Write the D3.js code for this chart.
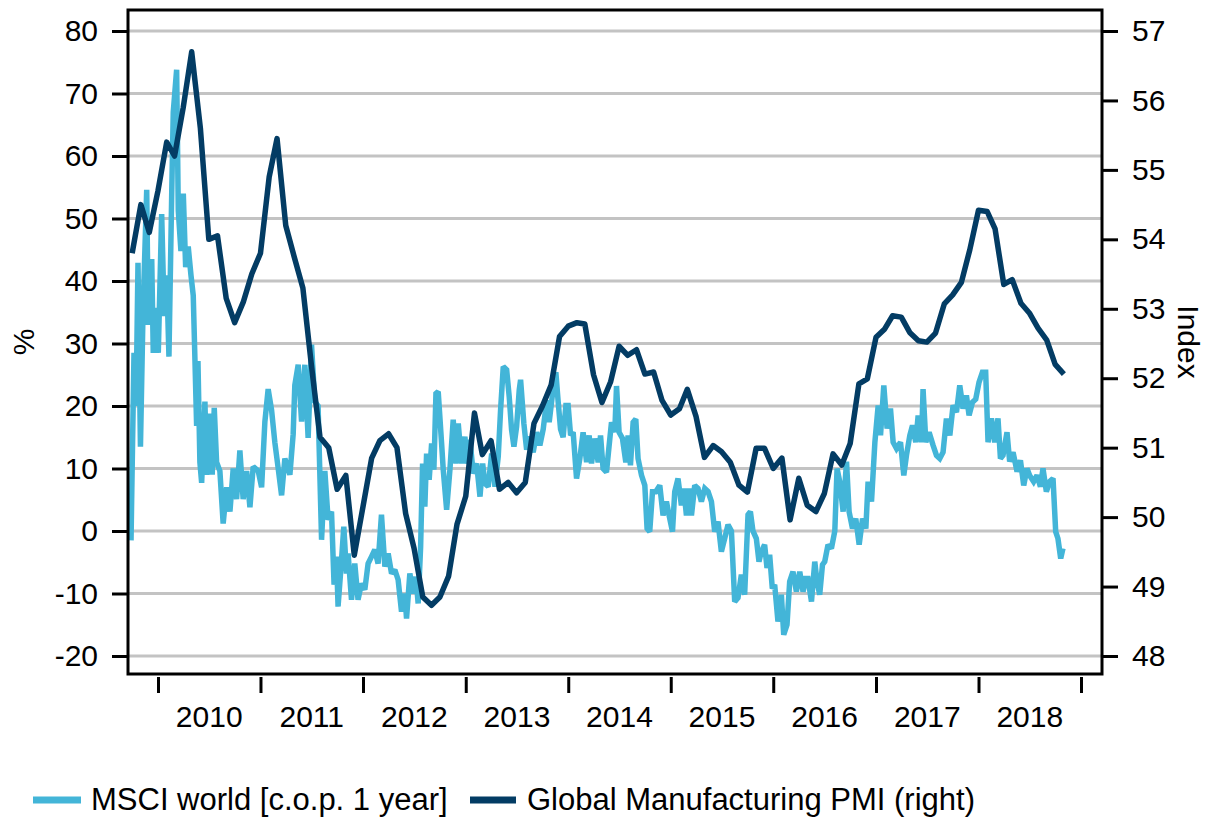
<!DOCTYPE html>
<html><head><meta charset="utf-8">
<script src="https://cdn.jsdelivr.net/npm/d3@7"></script>
<style>
body{margin:0;background:#fff}
text{font-family:"Liberation Sans", Arial, Helvetica, sans-serif; fill:#000}
</style>
</head><body>
<svg id="chart" width="1209" height="819"></svg>
<script>
// ---------------- DATA ----------------
const leftTicks = [-20, -10, 0, 10, 20, 30, 40, 50, 60, 70, 80];
const rightTicks = [48, 49, 50, 51, 52, 53, 54, 55, 56, 57];
const yearLabels = [2010, 2011, 2012, 2013, 2014, 2015, 2016, 2017, 2018];
const yearTicks = [2010, 2011, 2012, 2013, 2014, 2015, 2016, 2017, 2018, 2019];
const leftTitle = "%";
const rightTitle = "Index";
const seriesNames = ["MSCI world [c.o.p. 1 year]", "Global Manufacturing PMI (right)"];

// Global Manufacturing PMI, monthly from Oct 2009
const pmiStart = [2009, 9];
const pmiValues = [
  53.8, 54.5, 54.1,
  54.7, 55.4, 55.2, 55.9, 56.7, 55.6, 54.0, 54.05, 53.15, 52.8, 53.1, 53.5,
  53.8, 54.9, 55.45, 54.2, 53.75, 53.3, 52.2, 51.15, 51.0, 50.4, 50.6, 49.45,
  50.15, 50.85, 51.1, 51.2, 51.0, 50.05, 49.55, 48.85, 48.73, 48.85, 49.15, 49.9,
  50.3, 51.5, 50.9, 51.1, 50.4, 50.5, 50.35, 50.5, 51.35, 51.6, 51.9, 52.6,
  52.75, 52.8, 52.78, 52.05, 51.65, 51.95, 52.46, 52.33, 52.41, 52.06, 52.09, 51.68,
  51.47, 51.56, 51.84, 51.45, 50.86, 51.03, 50.94, 50.79, 50.46, 50.36, 50.99, 50.99,
  50.7, 50.85, 49.96, 50.56, 50.17, 50.08, 50.34, 50.91, 50.75, 51.06, 51.92, 51.99,
  52.59, 52.71, 52.9, 52.88, 52.66, 52.54, 52.52, 52.65, 53.07, 53.2, 53.38, 53.85,
  54.42, 54.4, 54.15, 53.35, 53.42, 53.08, 52.94, 52.72, 52.55, 52.2, 52.06
];

// MSCI world, change over previous year in %, [decimal year, value]
const msciSeries = [
  [2009.737,-1.5],[2009.766,28.5],[2009.786,20],[2009.805,42.9],[2009.829,13.5],[2009.854,35],
  [2009.890,54.6],[2009.905,33],[2009.939,43.5],[2009.954,28.5],[2009.987,35.7],[2010.003,28.5],
  [2010.036,50.7],[2010.061,34.4],[2010.085,40.9],[2010.107,27.9],[2010.134,54],[2010.149,67],
  [2010.182,73.8],[2010.198,51.3],[2010.224,44.8],[2010.247,54],[2010.270,42.2],[2010.295,45.5],
  [2010.322,40.9],[2010.344,37.7],[2010.361,27.2],[2010.377,16.8],[2010.390,27.2],[2010.409,11],
  [2010.426,7.7],[2010.458,20.7],[2010.475,9],[2010.507,18.8],[2010.529,9],[2010.549,19.7],
  [2010.572,11],[2010.604,9.6],[2010.636,1.2],[2010.670,7],[2010.702,3.1],[2010.734,10],
  [2010.767,5.1],[2010.799,12.9],[2010.831,5.1],[2010.865,9.6],[2010.897,3.8],[2010.929,10.3],
  [2010.978,9.6],[2011.011,7],[2011.043,17.5],[2011.075,22.7],[2011.108,19.4],[2011.140,14.2],
  [2011.173,10],[2011.206,5.7],[2011.238,11.6],[2011.287,9],[2011.319,15.5],[2011.335,23.3],
  [2011.368,26.6],[2011.401,17.5],[2011.433,26.6],[2011.465,14.9],[2011.498,29.8],[2011.530,20.7],
  [2011.562,20],[2011.596,-1.4],[2011.628,9.6],[2011.660,1.8],[2011.693,3.1],[2011.718,-8.6],
  [2011.742,-4.1],[2011.757,-12.1],[2011.791,-4.6],[2011.813,0.7],[2011.839,-6.8],[2011.855,-3.6],
  [2011.888,-11],[2011.920,-5.2],[2011.952,-11],[2011.985,-8.4],[2012.018,-9.4],[2012.050,-5.2],
  [2012.083,-4.1],[2012.115,-3.0],[2012.147,-5.2],[2012.180,2.6],[2012.213,-5.7],[2012.245,-3.6],
  [2012.278,-6.8],[2012.310,-6.2],[2012.342,-7.8],[2012.375,-12.9],[2012.407,-10],[2012.424,-14],
  [2012.456,-6.8],[2012.488,-10],[2012.515,-7.3],[2012.537,-11.6],[2012.561,-2.5],[2012.580,10.8],
  [2012.602,3.9],[2012.619,12.4],[2012.644,8.2],[2012.668,14.0],[2012.690,9.8],[2012.710,22],
  [2012.732,22.3],[2012.765,14],[2012.781,9.8],[2012.814,3.4],[2012.846,9.8],[2012.878,17.8],
  [2012.905,10.8],[2012.927,17.2],[2012.960,10.8],[2012.992,15.1],[2013.009,10.8],[2013.041,14.6],
  [2013.073,9.2],[2013.106,10.8],[2013.139,5.5],[2013.165,10.8],[2013.187,7.6],[2013.219,7.1],
  [2013.253,12.4],[2013.285,7.1],[2013.317,11.9],[2013.340,19.4],[2013.366,26.3],[2013.399,25.8],
  [2013.424,21.5],[2013.447,16.2],[2013.470,13.5],[2013.496,16.7],[2013.522,22.6],[2013.535,24.2],
  [2013.567,17.2],[2013.594,13],[2013.619,15.1],[2013.658,12.6],[2013.691,15.8],[2013.723,13.7],
  [2013.756,16.3],[2013.789,20.9],[2013.814,17.4],[2013.837,20.6],[2013.860,23.8],[2013.879,25.4],
  [2013.902,20.6],[2013.925,16.3],[2013.950,15.0],[2013.977,20.1],[2013.999,20.1],[2014.023,15.3],
  [2014.048,15.8],[2014.081,8.4],[2014.113,11.6],[2014.145,15.8],[2014.179,11.0],[2014.204,15.3],
  [2014.227,10.8],[2014.259,14.8],[2014.292,11.0],[2014.315,15.3],[2014.340,10],[2014.373,9.4],
  [2014.399,13.7],[2014.422,17.4],[2014.454,15.8],[2014.471,23.2],[2014.496,15.8],[2014.529,14.8],
  [2014.562,11.0],[2014.584,15.3],[2014.607,10.5],[2014.633,17.4],[2014.659,17.9],[2014.681,11.6],
  [2014.715,8.9],[2014.747,7.3],[2014.769,0.4],[2014.795,-0.1],[2014.822,6.3],[2014.854,6.3],
  [2014.893,7.3],[2014.925,2.5],[2014.958,4.7],[2014.984,2.5],[2015.017,-0.1],[2015.039,6.3],
  [2015.071,8.4],[2015.104,4.1],[2015.127,6.8],[2015.153,2.5],[2015.179,6.8],[2015.202,2.5],
  [2015.234,7.3],[2015.266,6.8],[2015.299,4.7],[2015.332,6.8],[2015.364,6.3],[2015.397,4.7],
  [2015.429,-0.1],[2015.461,1.5],[2015.494,-3.3],[2015.526,-1.2],[2015.559,1.0],[2015.592,0],
  [2015.624,-11.3],[2015.656,-10.7],[2015.689,-7.0],[2015.721,-10.2],[2015.754,2.6],[2015.777,3.1],
  [2015.802,0],[2015.835,-1.2],[2015.861,-4.9],[2015.884,-3.3],[2015.916,-2.2],[2015.939,-5.9],
  [2015.965,-3.8],[2015.991,-9.2],[2016.014,-8.6],[2016.046,-14.5],[2016.079,-10.2],[2016.102,-16.6],
  [2016.134,-15],[2016.160,-8.1],[2016.192,-6.5],[2016.225,-9.7],[2016.258,-6.5],[2016.290,-9.7],
  [2016.316,-7.6],[2016.338,-7.6],[2016.372,-11.3],[2016.404,-4.9],[2016.426,-8.1],[2016.452,-10.2],
  [2016.479,-5.4],[2016.501,-4.9],[2016.533,-2.2],[2016.566,-2.8],[2016.599,0],[2016.621,10],
  [2016.647,7.9],[2016.680,3.1],[2016.713,11.1],[2016.738,3.1],[2016.771,0.4],[2016.803,2.0],
  [2016.836,-2.2],[2016.869,2.0],[2016.901,0.4],[2016.923,7.9],[2016.956,4.7],[2016.989,14.2],
  [2017.021,20.1],[2017.044,15.3],[2017.076,23.3],[2017.108,16.4],[2017.141,19.6],[2017.167,14.2],
  [2017.200,13.2],[2017.239,14.2],[2017.271,8.9],[2017.297,12.1],[2017.330,15.3],[2017.356,16.9],
  [2017.388,14.2],[2017.411,18.5],[2017.444,14.2],[2017.459,22.7],[2017.486,14.2],[2017.518,15.8],
  [2017.557,13.7],[2017.590,12.1],[2017.622,11.6],[2017.654,12.6],[2017.687,18.0],[2017.720,15.3],
  [2017.752,20.1],[2017.785,19.0],[2017.817,23.3],[2017.849,19.6],[2017.882,21.7],[2017.908,18.5],
  [2017.941,20.6],[2017.973,21.1],[2018.005,23.8],[2018.038,25.4],[2018.070,25.4],[2018.093,14.2],
  [2018.126,18.0],[2018.158,14.2],[2018.190,18.0],[2018.214,11.6],[2018.239,12.1],[2018.278,15.8],
  [2018.304,11.1],[2018.337,12.6],[2018.376,9.5],[2018.409,11.3],[2018.441,7.3],[2018.473,10],
  [2018.499,8.9],[2018.538,7.9],[2018.571,8.9],[2018.604,7.1],[2018.629,10],[2018.662,6.3],
  [2018.694,7.9],[2018.727,8.4],[2018.753,-0.1],[2018.775,-1.2],[2018.802,-4.4],[2018.824,-2.8]
];
const xDomainYears = [2009.7075, 2019.2048];

// ---------------- LAYOUT ----------------
const W = 1209, H = 819;
const plot = {left: 128, right: 1102, top: 10, bottom: 674};
const colors = {msci: "#43b5d8", pmi: "#033c64", grid: "#c3c3c3"};

function decYear(t) {
  const y = Math.floor(t);
  const s = Date.UTC(y, 0, 1), e = Date.UTC(y + 1, 0, 1);
  return new Date(s + (t - y) * (e - s));
}

const svg = d3.select("#chart");
const x = d3.scaleUtc().domain(xDomainYears.map(decYear)).range([plot.left, plot.right]);
const yL = d3.scaleLinear().domain([-20, 80]).range([656, 31]);
const yR = d3.scaleLinear().domain([48, 57]).range([656, 31]);

// gridlines
svg.append("g").selectAll("line").data(leftTicks).join("line")
  .attr("x1", plot.left).attr("x2", plot.right)
  .attr("y1", d => yL(d)).attr("y2", d => yL(d))
  .attr("stroke", colors.grid).attr("stroke-width", 3);

// series
const pmiData = pmiValues.map((v, i) => ({date: new Date(Date.UTC(pmiStart[0], pmiStart[1] + i, 1)), v}));
const msciData = msciSeries.map(([t, v]) => ({date: decYear(t), v}));

svg.append("path").datum(msciData)
  .attr("fill", "none").attr("stroke", colors.msci).attr("stroke-width", 5.5)
  .attr("stroke-linejoin", "miter").attr("stroke-miterlimit", 2)
  .attr("d", d3.line().x(d => x(d.date)).y(d => yL(d.v)));

svg.append("path").datum(pmiData)
  .attr("fill", "none").attr("stroke", colors.pmi).attr("stroke-width", 5.5)
  .attr("stroke-linejoin", "round")
  .attr("d", d3.line().x(d => x(d.date)).y(d => yR(d.v)));

// frame
svg.append("rect").attr("x", plot.left).attr("y", plot.top)
  .attr("width", plot.right - plot.left).attr("height", plot.bottom - plot.top)
  .attr("fill", "none").attr("stroke", "#000").attr("stroke-width", 3);

// axes
const fs = "30px";
const plain = d => String(d);
const gL = svg.append("g").attr("transform", `translate(${plot.left},0)`)
  .call(d3.axisLeft(yL).tickValues(leftTicks).tickSize(16).tickPadding(14).tickFormat(plain));
const gR = svg.append("g").attr("transform", `translate(${plot.right},0)`)
  .call(d3.axisRight(yR).tickValues(rightTicks).tickSize(16).tickPadding(14).tickFormat(plain));
const gB = svg.append("g").attr("transform", `translate(0,${plot.bottom + 3})`)
  .call(d3.axisBottom(x).tickValues(yearTicks.map(y => decYear(y))).tickSize(16).tickFormat(""));
[gL, gR, gB].forEach(g => {
  g.select(".domain").remove();
  g.selectAll(".tick line").attr("stroke", "#000").attr("stroke-width", 3);
  g.selectAll(".tick text").attr("font-size", fs).attr("font-family", "Liberation Sans, Arial, sans-serif").attr("fill", "#000");
});

svg.append("g").selectAll("text").data(yearLabels).join("text")
  .attr("x", d => x(decYear(d + 0.5))).attr("y", 727)
  .attr("text-anchor", "middle").attr("font-size", fs).text(d => d);

// axis titles
svg.append("text").attr("transform", `translate(34,${(plot.top + plot.bottom) / 2}) rotate(-90)`)
  .attr("text-anchor", "middle").attr("font-size", fs).text(leftTitle);
svg.append("text").attr("transform", `translate(1178,${(plot.top + plot.bottom) / 2}) rotate(90)`)
  .attr("text-anchor", "middle").attr("font-size", fs).text(rightTitle);

// legend
const legend = [
  {name: seriesNames[0], color: colors.msci, x1: 33, x2: 81, tx: 91},
  {name: seriesNames[1], color: colors.pmi, x1: 470, x2: 516, tx: 527}
];
const lg = svg.append("g");
legend.forEach(l => {
  lg.append("line").attr("x1", l.x1).attr("x2", l.x2).attr("y1", 800).attr("y2", 800)
    .attr("stroke", l.color).attr("stroke-width", 7);
  lg.append("text").attr("x", l.tx).attr("y", 810).attr("font-size", "31px").text(l.name);
});
</script>
</body></html>
